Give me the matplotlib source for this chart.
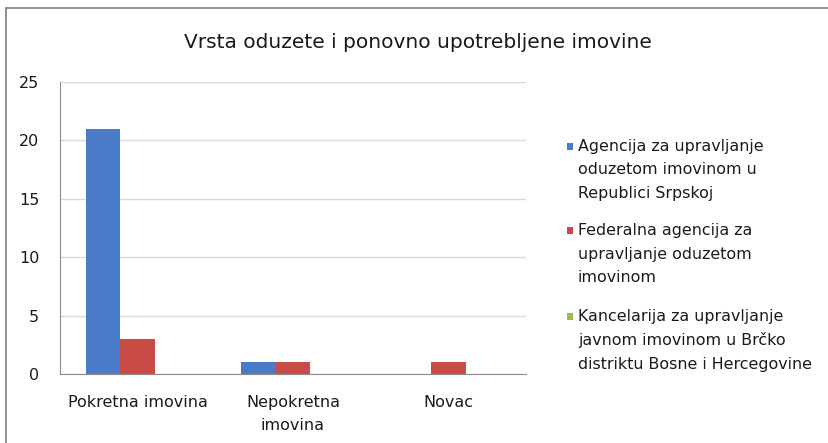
import matplotlib
matplotlib.use("Agg")
import matplotlib.pyplot as plt
from matplotlib.patches import Rectangle
import numpy as np

categories = ["Pokretna imovina", "Nepokretna\nimovina", "Novac"]
series_names = [
    "Agencija za upravljanje\noduzetom imovinom u\nRepublici Srpskoj",
    "Federalna agencija za\nupravljanje oduzetom\nimovinom",
    "Kancelarija za upravljanje\njavnom imovinom u Brčko\ndistriktu Bosne i Hercegovine",
]
agencija_rs = [21, 1, 0]
federalna = [3, 1, 1]
brcko = [0, 0, 0]
yticks = [0, 5, 10, 15, 20, 25]
title = "Vrsta oduzete i ponovno upotrebljene imovine"

colors = ["#4A7BC8", "#C84B46", "#9BBB59"]

plt.rcParams['font.family'] = ['DejaVu Sans']

W, H = 829, 443
fig = plt.figure(figsize=(W / 100, H / 100), dpi=100)
fig.patch.set_facecolor("white")

# outer chart border
fig.patches.append(Rectangle((6 / W, -0.05), 1.2, 1 - 8 / H + 0.05,
                             transform=fig.transFigure, fill=False,
                             edgecolor="#7f7f7f", linewidth=1.2))

ax = fig.add_axes([60 / W, 1 - 374 / H, (526 - 60) / W, (374 - 82) / H])
x = np.arange(len(categories))
w = 1 / 4.5
for i, vals in enumerate([agencija_rs, federalna, brcko]):
    ax.bar(x + (i - 1) * w, vals, width=w, color=colors[i],
           label=series_names[i], zorder=3)

ax.set_xlim(-0.5, len(categories) - 0.5)
ax.set_ylim(0, 25)
ax.set_yticks(yticks)
ax.yaxis.grid(True, color="#d9d9d9", linewidth=1, zorder=0)
ax.set_xticks(x)
ax.set_xticklabels(categories, fontsize=11.5, color="#1a1a1a", linespacing=1.65)
for s in ["top", "right"]:
    ax.spines[s].set_visible(False)
ax.spines["left"].set_color("#8c8c8c")
ax.spines["bottom"].set_color("#8c8c8c")
ax.tick_params(axis="y", length=0, labelsize=11.5, pad=15, colors="#1a1a1a")
ax.tick_params(axis="x", length=0, pad=15)

fig.text(418 / W, 1 - 43 / H, title, ha="center", va="center",
         fontsize=14.5, color="#1a1a1a")

# legend (manual, to match Excel's top-aligned markers)
entry_tops = [146, 230, 316]
line_step = 24
for i, name in enumerate(series_names):
    yc = entry_tops[i]
    fig.patches.append(Rectangle((567 / W, 1 - (yc + 3.5) / H), 6 / W, 7 / H,
                                 transform=fig.transFigure,
                                 facecolor=colors[i], edgecolor="none"))
    for j, line in enumerate(name.split("\n")):
        fig.text(578 / W, 1 - (yc + j * line_step) / H, line,
                 ha="left", va="center", fontsize=11.4, color="#1a1a1a")

fig.savefig("out.png", dpi=100)
